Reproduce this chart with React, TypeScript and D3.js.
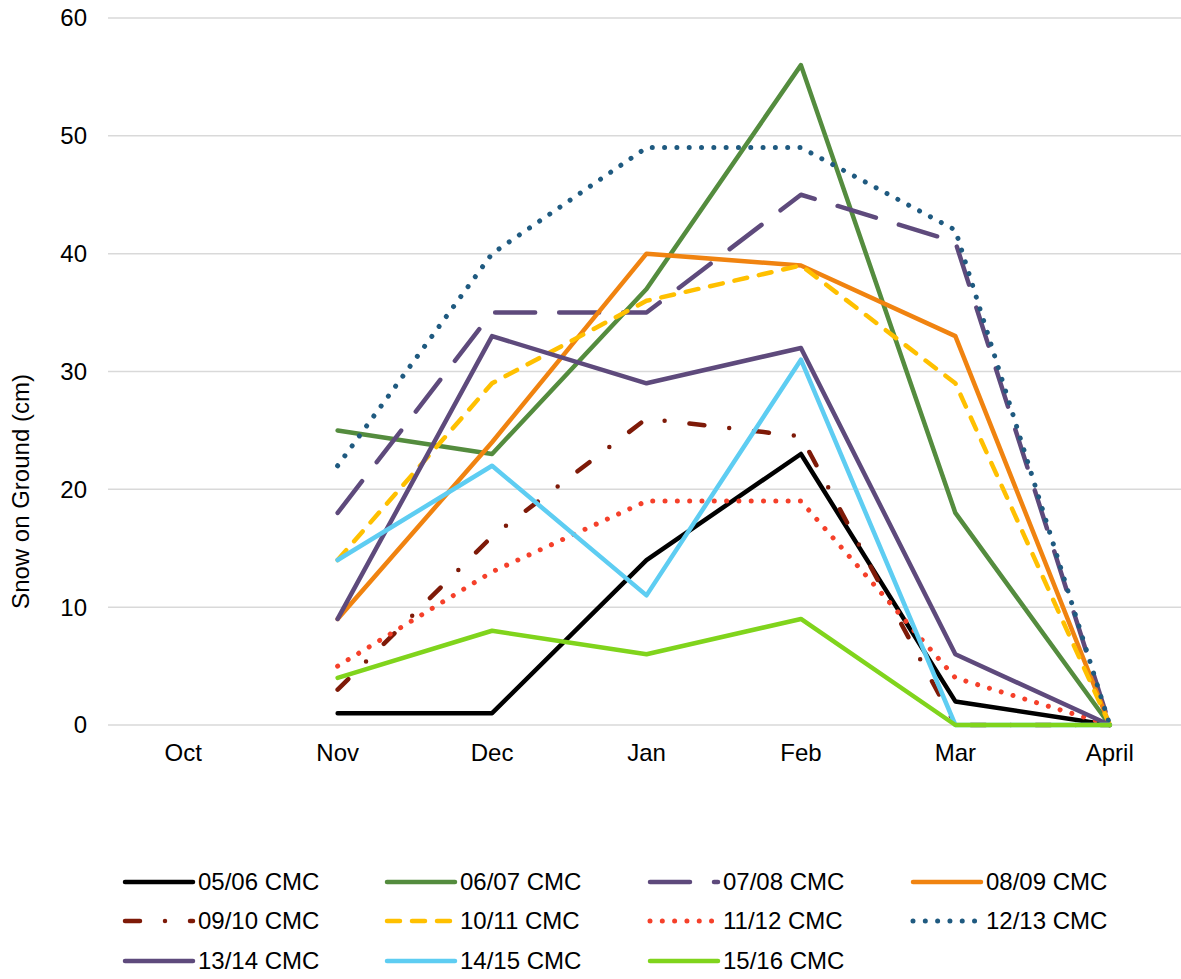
import React from "react";
import * as d3 from "d3";

const months = ["Oct", "Nov", "Dec", "Jan", "Feb", "Mar", "April"];
const yTicks = [0, 10, 20, 30, 40, 50, 60];

const seriesNames = [
  "05/06 CMC", "06/07 CMC", "07/08 CMC", "08/09 CMC",
  "09/10 CMC", "10/11 CMC", "11/12 CMC", "12/13 CMC",
  "13/14 CMC", "14/15 CMC", "15/16 CMC",
];

// values for Oct..April (Oct has no data)
const s0506 = [null, 1, 1, 14, 23, 2, 0];
const s0607 = [null, 25, 23, 37, 56, 18, 0];
const s0708 = [null, 18, 35, 35, 45, 41, 0];
const s0809 = [null, 9, 24, 40, 39, 33, 0];
const s0910 = [null, 3, 16, 26, 24.5, 0, 0];
const s1011 = [null, 14, 29, 36, 39, 29, 0];
const s1112 = [null, 5, 13, 19, 19, 4, 0];
const s1213 = [null, 22, 40, 49, 49, 42, 0];
const s1314 = [null, 9, 33, 29, 32, 6, 0];
const s1415 = [null, 14, 22, 11, 31, 0, 0];
const s1516 = [null, 4, 8, 6, 9, 0, 0];

const seriesValues = [s0506, s0607, s0708, s0809, s0910, s1011, s1112, s1213, s1314, s1415, s1516];

const colors = [
  "#000000", "#548C3E", "#5E4A7C", "#F08310",
  "#7E1A08", "#FFC000", "#F5402A", "#1F5A80",
  "#5E4A7C", "#5ECDF2", "#80D41C",
];
const dashes = [
  null, null, "40 24", null,
  "15 25 0 25", "13 12", "0.01 12.3", "0.01 12.3",
  null, null, null,
];

export default function App() {
  const W = 1181, H = 979;
  const left = 106, right = 1187, top = 18, bottom = 725;
  const x = d3.scaleBand<string>().domain(months).range([left, right]);
  const y = d3.scaleLinear().domain([0, 60]).range([bottom, top]);
  const cx = (m: string) => (x(m) as number) + x.bandwidth() / 2;

  const line = d3
    .line<[string, number | null]>()
    .defined((d) => d[1] !== null)
    .x((d) => cx(d[0]))
    .y((d) => y(d[1] as number));

  const font = "'Liberation Sans', Arial, sans-serif";
  const fs = 24;
  const legCols = [125, 387, 650, 913];
  const legRows = [882, 921, 961];
  const isDot = (i: number) => !!dashes[i] && dashes[i]!.startsWith("0.01");

  return (
    <svg width={W} height={H} style={{ position: "absolute", left: 0, top: 0, background: "#fff" }}>
      {yTicks.map((t) => (
        <g key={t}>
          <line x1={left + 2} x2={W} y1={y(t)} y2={y(t)} stroke="#D9D9D9" strokeWidth={1.5} />
          <text x={87} y={y(t)} dy="0.35em" textAnchor="end" fontFamily={font} fontSize={fs} fill="#000">
            {t}
          </text>
        </g>
      ))}
      {months.map((m) => (
        <text key={m} x={cx(m)} y={761} textAnchor="middle" fontFamily={font} fontSize={fs} fill="#000">
          {m}
        </text>
      ))}
      <text
        transform={`translate(29, ${(top + bottom) / 2 + 120}) rotate(-90)`}
        textAnchor="middle"
        fontFamily={font}
        fontSize={fs}
        fill="#000"
      >
        Snow on Ground (cm)
      </text>

      {seriesValues.map((vals, i) => {
        const pts = months.map((m, k) => [m, vals[k]] as [string, number | null]);
        return (
          <path
            key={i}
            d={line(pts) || ""}
            fill="none"
            stroke={colors[i]}
            strokeWidth={isDot(i) ? 5 : 4.5}
            strokeDasharray={dashes[i] || undefined}
            strokeLinecap="round"
            strokeLinejoin="round"
          />
        );
      })}

      {seriesNames.map((name, i) => {
        const col = i % 4;
        const row = Math.floor(i / 4);
        const lx = legCols[col];
        const ly = legRows[row];
        return (
          <g key={name}>
            <line
              x1={lx}
              x2={lx + 68}
              y1={ly}
              y2={ly}
              stroke={colors[i]}
              strokeWidth={isDot(i) ? 5 : 4.5}
              strokeDasharray={dashes[i] || undefined}
              strokeLinecap="round"
            />
            <text x={lx + 73} y={ly} dy="0.35em" fontFamily={font} fontSize={fs} fill="#000">
              {name}
            </text>
          </g>
        );
      })}
    </svg>
  );
}
